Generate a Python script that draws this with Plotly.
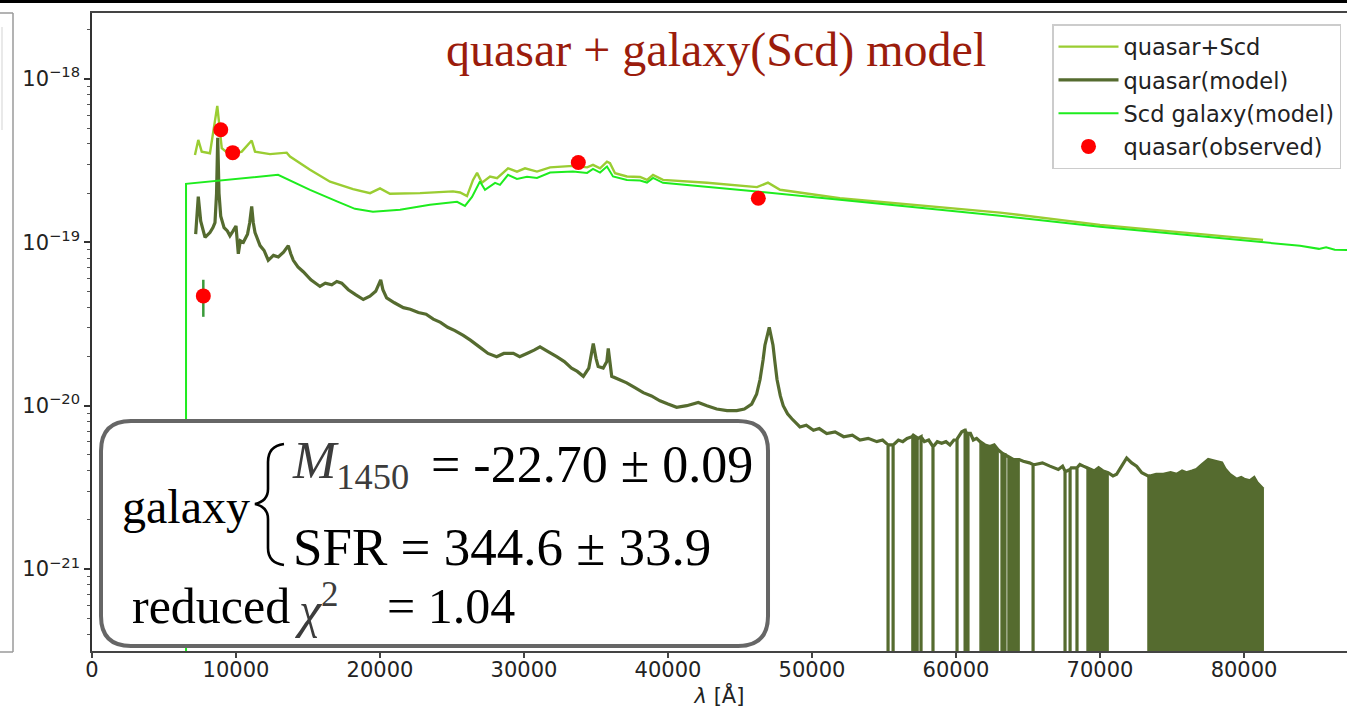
import plotly.graph_objects as go

# ---------------------------------------------------------------------------
# Spectral data (wavelength in Angstrom, flux as log10 of erg/s/cm^2/A)
# ---------------------------------------------------------------------------
FLUX_FLOOR = -30.0  # log10 stand-in for zero flux on the log axis

# quasar + Scd galaxy composite model
combo_lam = [7150, 7380, 7620, 8190, 8700, 9010, 9580, 10400, 11090, 11320,
             12360, 13520, 13750, 15140, 16530, 18130, 19310, 20000, 20690,
             22780, 25070, 25560, 26040, 26460, 26740, 27080, 27640, 28130,
             28890, 29510, 30070, 30900, 31810, 33400, 34380, 34790, 35280,
             35760, 35970, 36320, 37150, 38060, 38540, 38960, 39650, 42710,
             46180, 46940, 47780, 49650, 51940, 63060, 70000, 81320]
combo_logf = [-18.465, -18.373, -18.445, -18.455, -18.165, -18.424, -18.465,
              -18.445, -18.377, -18.445, -18.460, -18.451, -18.475, -18.556,
              -18.629, -18.674, -18.699, -18.670, -18.703, -18.699, -18.688,
              -18.695, -18.717, -18.618, -18.575, -18.635, -18.597, -18.607,
              -18.547, -18.567, -18.547, -18.567, -18.541, -18.532, -18.541,
              -18.526, -18.547, -18.506, -18.516, -18.577, -18.597, -18.600,
              -18.618, -18.587, -18.618, -18.635, -18.662, -18.635, -18.678,
              -18.703, -18.730, -18.818, -18.893, -18.985]

# quasar template: (wavelength, log10 flux)
quasar_points = [
    (7200, -18.95), (7380, -18.72), (7550, -18.87), (7850, -18.97),
    (8190, -18.94), (8400, -18.91), (8540, -18.88), (8650, -18.70),
    (8730, -18.36), (8820, -18.70), (8940, -18.84), (9170, -18.91),
    (9400, -18.93), (9580, -18.96), (9800, -18.93), (10000, -18.90),
    (10160, -19.07), (10300, -18.99), (10510, -19.00), (10800, -18.95),
    (10950, -18.88), (11090, -18.78), (11200, -18.88), (11320, -18.94),
    (11670, -19.02), (11950, -19.05), (12240, -19.11), (12600, -19.08),
    (12940, -19.09), (13300, -19.06), (13630, -19.02), (13800, -19.07),
    (13980, -19.11), (14300, -19.15), (14670, -19.18), (15200, -19.23),
    (15830, -19.27), (16200, -19.25), (16650, -19.26), (17000, -19.24),
    (17340, -19.25), (17800, -19.29), (18300, -19.32), (18840, -19.35),
    (19300, -19.33), (19700, -19.30), (20050, -19.23), (20200, -19.29),
    (20460, -19.34), (21000, -19.37), (21620, -19.40), (22100, -19.41),
    (22660, -19.43), (23200, -19.44), (23700, -19.47), (24200, -19.49),
    (24700, -19.52), (25200, -19.54), (25780, -19.57), (26300, -19.60),
    (26900, -19.64), (27500, -19.68), (28100, -19.70), (28600, -19.68),
    (29260, -19.68), (29700, -19.70), (30200, -19.68), (30700, -19.66),
    (31110, -19.64), (31700, -19.67), (32270, -19.70), (32800, -19.73),
    (33300, -19.77), (33700, -19.79), (34120, -19.82), (34500, -19.77),
    (34810, -19.62), (35000, -19.71), (35150, -19.76), (35500, -19.77),
    (35750, -19.73), (35850, -19.65), (36090, -19.82), (36600, -19.84),
    (37130, -19.86), (37700, -19.89), (38280, -19.92), (38850, -19.94),
    (39440, -19.97), (40000, -19.99), (40600, -20.01), (41300, -20.00),
    (42100, -19.98), (42700, -20.00), (43380, -20.02), (44100, -20.03),
    (44770, -20.03), (45300, -20.02), (45810, -19.99), (46150, -19.93),
    (46390, -19.84), (46600, -19.72), (46730, -19.63), (47030, -19.52),
    (47290, -19.63), (47420, -19.73), (47570, -19.84), (47800, -19.94),
    (48000, -20.00), (48300, -20.05), (48600, -20.08), (49160, -20.13),
    (49600, -20.12), (50100, -20.15), (50500, -20.14), (51020, -20.17),
    (51600, -20.16), (52200, -20.19), (52800, -20.18), (53330, -20.21),
    (53900, -20.20), (54500, -20.22), (54900, -20.21), (55280, -20.24),
    (55640, -20.24), (56000, -20.21), (56300, -20.22), (56600, -20.20),
    (56940, -20.19), (57030, -20.18), (57360, -20.20), (57800, -20.22),
    (58100, -20.21), (58420, -20.25), (58700, -20.22), (59000, -20.23),
    (59300, -20.22), (59580, -20.24), (59850, -20.21), (60100, -20.20),
    (60400, -20.16), (60620, -20.15), (60800, -20.18), (61000, -20.17),
    (61200, -20.21), (61430, -20.20), (61670, -20.22), (62000, -20.24),
    (62360, -20.25), (62650, -20.24), (62920, -20.27), (63280, -20.30),
    (63610, -20.31), (64000, -20.33), (64380, -20.33), (64670, -20.34),
    (65100, -20.35), (65500, -20.36), (66000, -20.35), (66520, -20.37),
    (67100, -20.39), (67400, -20.37), (67680, -20.40), (68000, -20.38),
    (68300, -20.38), (68600, -20.36), (68840, -20.37), (69100, -20.38),
    (69600, -20.40), (69900, -20.38), (70220, -20.40), (70560, -20.41),
    (70900, -20.43), (71150, -20.42), (71500, -20.37), (71850, -20.32),
    (72200, -20.35), (72540, -20.37), (72900, -20.41), (73330, -20.43),
    (73470, -20.43), (73900, -20.42), (74400, -20.42), (74900, -20.41),
    (75320, -20.42), (75700, -20.40), (76000, -20.41), (76400, -20.40),
    (76710, -20.39), (77100, -20.36), (77520, -20.33), (78000, -20.34),
    (78450, -20.35), (78700, -20.39), (79000, -20.42), (79490, -20.45),
    (79800, -20.44), (80000, -20.45), (80410, -20.46), (80700, -20.44),
    (80900, -20.47), (81330, -20.51),
]

# isolated pixels with zero / negative flux in the quasar template
dropout_lam = [55280, 55630, 57570, 58400, 60070, 60630, 60830, 63190, 63400,
               65350, 67570, 67920, 68400]
dropout_top = [-20.24, -20.24, -20.19, -20.25, -20.21, -20.15, -20.17, -20.29,
               -20.30, -20.36, -20.40, -20.39, -20.38]
# wavelength windows where almost every pixel drops to zero flux
dropout_bands = [(56940, 57360), (61670, 62920), (63610, 64380),
                 (69100, 70560), (73330, 81330)]

# Scd galaxy template
galaxy_lam = [6530, 6530, 12920, 15140, 17010, 18260, 19510, 21390, 23470,
              25350, 25900, 26390, 26940, 27290, 27990, 28330, 28890, 29510,
              30210, 30900, 31810, 33400, 34380, 34790, 35280, 35760, 36180,
              37150, 38060, 38540, 38960, 39650, 46180, 51940, 63060, 70000,
              81320, 83890, 85200, 85700, 86300, 87150, 88500]
galaxy_logf = [FLUX_FLOOR, -18.642, -18.587, -18.679, -18.749, -18.795,
               -18.813, -18.801, -18.770, -18.752, -18.777, -18.722, -18.628,
               -18.679, -18.636, -18.648, -18.587, -18.612, -18.599, -18.606,
               -18.573, -18.567, -18.575, -18.550, -18.573, -18.536, -18.597,
               -18.618, -18.622, -18.634, -18.606, -18.636, -18.689, -18.740,
               -18.838, -18.905, -18.997, -19.021, -19.040, -19.030, -19.045,
               -19.046, -19.050]

# photometry (flux in units of 1e-19)
obs_lam = [7730, 8940, 9770, 33770, 46270]
obs_flux = [0.47, 4.89, 3.54, 3.08, 1.86]
obs_err = [0.12, 0.15, 0.30, 0.10, 0.10]

x_tick_vals = [0, 10000, 20000, 30000, 40000, 50000, 60000, 70000, 80000]
y_decades = [-21, -20, -19, -18]

# ---------------------------------------------------------------------------
C_COMBO = "#9acd32"
C_QSO = "#556b2f"
C_GAL = "#1eec1e"
C_OBS = "#ff0000"
C_ERR = "#3a9a3a"

W, H = 1347, 716
ML, MR, MT, MB = 92, 0, 13, 65
PW, PH = W - ML - MR, H - MT - MB


def px(x):
    return (x - ML) / PW


def py(y):
    return (H - MB - y) / PH


def lin(logs):
    return [10.0 ** v for v in logs]


# quasar line with the single-pixel dropouts merged in
events = [(l, 0, f) for l, f in quasar_points]
for l, t in zip(dropout_lam, dropout_top):
    events += [(l, 1, t), (l, 2, FLUX_FLOOR), (l, 3, t)]
events.sort(key=lambda e: (e[0], e[1]))
q_x = [e[0] for e in events]
q_y = lin([e[2] for e in events])

fig = go.Figure()

fig.add_trace(go.Scatter(
    x=combo_lam, y=lin(combo_logf), mode="lines", name="quasar+Scd",
    line=dict(color=C_COMBO, width=2.4), legendgroup="a"))

fig.add_trace(go.Scatter(
    x=q_x, y=q_y, mode="lines", name="quasar(model)",
    line=dict(color=C_QSO, width=3.2, simplify=False), legendgroup="b"))

for s, e in dropout_bands:
    sel = [p for p in quasar_points if s <= p[0] <= e]
    bx = [s] + [p[0] for p in sel] + [e]
    by = lin([FLUX_FLOOR] + [p[1] for p in sel] + [FLUX_FLOOR])
    fig.add_trace(go.Scatter(
        x=bx, y=by, mode="lines", fill="toself", fillcolor=C_QSO,
        line=dict(color=C_QSO, width=1.5, simplify=False),
        showlegend=False, hoverinfo="skip"))

fig.add_trace(go.Scatter(
    x=galaxy_lam, y=lin(galaxy_logf), mode="lines", name="Scd galaxy(model)",
    line=dict(color=C_GAL, width=2), legendgroup="c"))

fig.add_trace(go.Scatter(
    x=obs_lam, y=[v * 1e-19 for v in obs_flux], mode="markers",
    name="quasar(observed)", legendgroup="d",
    marker=dict(color=C_OBS, size=15),
    error_y=dict(type="data", array=[v * 1e-19 for v in obs_err],
                 color=C_ERR, thickness=2.5, width=0)))

# ---------------------------------------------------------------------------
shapes = []


def seg(x0, y0, x1, y1, color, width):
    shapes.append(dict(type="line", xref="paper", yref="paper",
                       x0=px(x0), y0=py(y0), x1=px(x1), y1=py(y1),
                       line=dict(color=color, width=width)))


# strip at the very top and the neighbouring panel frame on the left
shapes.append(dict(type="rect", xref="paper", yref="paper",
                   x0=px(0), x1=px(W), y0=py(3), y1=py(0),
                   fillcolor="black", line=dict(width=0), layer="above"))
seg(0, 13, 13, 13, "#9a9a9a", 1.5)
seg(13, 13, 13, 652, "#9a9a9a", 1.5)
seg(0, 652, 13, 652, "#9a9a9a", 1.5)
seg(2, 27, 2, 130, "#e2e2e2", 1.5)


def P(x, y):
    return f"{px(x):.5f},{py(y):.5f}"


# rounded box holding the fit results
bx0, by0, bx1, by1, r = 101, 421, 768, 646, 30
box_path = (f"M{P(bx0 + r, by0)} L{P(bx1 - r, by0)} Q{P(bx1, by0)} {P(bx1, by0 + r)} "
            f"L{P(bx1, by1 - r)} Q{P(bx1, by1)} {P(bx1 - r, by1)} "
            f"L{P(bx0 + r, by1)} Q{P(bx0, by1)} {P(bx0, by1 - r)} "
            f"L{P(bx0, by0 + r)} Q{P(bx0, by0)} {P(bx0 + r, by0)} Z")
shapes.append(dict(type="path", xref="paper", yref="paper", path=box_path,
                   fillcolor="white", line=dict(color="#666666", width=4),
                   layer="above"))

# curly brace
brace = (f"M{P(284, 444)} Q{P(268, 446)} {P(268, 462)} L{P(268, 489)} "
         f"Q{P(268, 501)} {P(255, 504)} Q{P(268, 507)} {P(268, 519)} "
         f"L{P(268, 548)} Q{P(268, 563)} {P(284, 565)}")
shapes.append(dict(type="path", xref="paper", yref="paper", path=brace,
                   line=dict(color="black", width=2.6), layer="above"))

SERIF = "Liberation Serif, Times New Roman, serif"
annotations = []


def txt(text, x, y, size, color="black", xanchor="left"):
    annotations.append(dict(text=text, xref="paper", yref="paper",
                            x=px(x), y=py(y), xanchor=xanchor, yanchor="middle",
                            showarrow=False,
                            font=dict(family=SERIF, size=size, color=color)))


txt("quasar + galaxy(Scd) model", 716, 50, 48, color="#9b1c0c", xanchor="center")
txt("galaxy", 120, 506, 48)
txt("<i>M</i><sub>1450</sub>", 290, 465, 52, color="#3c3c3c")
txt("= -22.70 ± 0.09", 429, 465, 52)
txt("SFR = 344.6 ± 33.9", 291, 547, 53)
txt("reduced", 130, 606, 50)
txt("<i>χ</i><sup>2</sup>", 293, 606, 50, color="#3c3c3c")
txt("= 1.04", 385, 606, 50)

minor_vals = [m * 10.0 ** e for e in range(-22, -17) for m in range(2, 10)]

fig.update_layout(
    width=W, height=H,
    margin=dict(l=ML, r=MR, t=MT, b=MB, pad=0),
    paper_bgcolor="white", plot_bgcolor="white",
    font=dict(family="DejaVu Sans", size=21, color="#222222"),
    shapes=shapes, annotations=annotations,
    legend=dict(x=px(1052), y=py(24), xanchor="left", yanchor="top",
                bgcolor="rgba(255,255,255,0.85)", bordercolor="#cccccc",
                borderwidth=1.5, tracegroupgap=1, itemwidth=60,
                font=dict(family="DejaVu Sans", size=22.5, color="#222222")),
    showlegend=True,
)

fig.update_xaxes(
    range=[0, 87150], showgrid=False, zeroline=False,
    showline=True, linecolor="#444444", linewidth=1.8, mirror=True,
    ticks="outside", ticklen=5, tickwidth=1.5, tickcolor="#444444",
    tickmode="array", tickvals=x_tick_vals,
    ticktext=[str(v) for v in x_tick_vals],
    tickfont=dict(family="DejaVu Sans", size=21, color="#222222"),
    title=dict(text="<i>λ</i> [Å]", standoff=6,
               font=dict(family="DejaVu Sans", size=21, color="#222222")),
)
try:
    fig.update_xaxes(ticklabelstandoff=-6)
except ValueError:
    pass

fig.update_yaxes(
    type="log", range=[-21.5015, -17.5963], showgrid=False, zeroline=False,
    showline=True, linecolor="#333333", linewidth=1.5, mirror=False,
    ticks="outside", ticklen=6, tickwidth=1.5, tickcolor="#333333",
    tickmode="array", tickvals=[10.0 ** d for d in y_decades],
    ticktext=[f"10<sup>\u2212{-d}</sup>" for d in y_decades],
    tickfont=dict(family="DejaVu Sans", size=21, color="#222222"),
    minor=dict(ticks="outside", ticklen=3.5, tickwidth=1, tickcolor="#555555",
               tickvals=minor_vals, showgrid=False),
)

fig.write_html("out.html")
